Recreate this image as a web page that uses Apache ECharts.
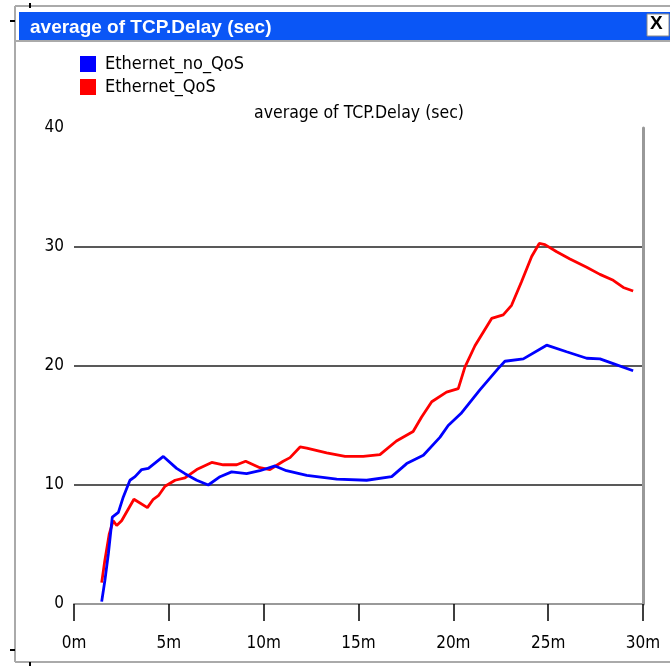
<!DOCTYPE html>
<html>
<head>
<meta charset="utf-8">
<script src="https://cdn.jsdelivr.net/npm/echarts@6/dist/echarts.min.js"></script>
<style>
  html, body { margin: 0; padding: 0; background: #fff; }
  #chart { width: 670px; height: 666px; }
</style>
</head>
<body>
<div id="chart"></div>
<script>
// time in minutes, delay in seconds
var noQosTime = [1.46, 1.63, 1.81, 2.02, 2.34, 2.60, 2.95, 3.22, 3.57, 3.92, 4.71, 5.41, 5.85, 6.47, 7.08, 7.70, 8.31, 9.10, 9.80, 10.6, 11.2, 12.27, 13.85, 15.43, 16.75, 17.54, 18.42, 19.29, 19.73, 20.4, 21.4, 22.37, 22.72, 23.69, 24.92, 25.97, 27.03, 27.73, 28.43, 29.48];
var noQosDelay = [0.2, 2.0, 4.2, 7.3, 7.7, 9.0, 10.4, 10.7, 11.3, 11.4, 12.4, 11.4, 10.95, 10.4, 10.0, 10.7, 11.1, 10.95, 11.2, 11.6, 11.2, 10.8, 10.5, 10.4, 10.7, 11.8, 12.5, 14.0, 15.0, 16.0, 18.0, 19.8, 20.4, 20.6, 21.75, 21.2, 20.65, 20.6, 20.2, 19.6];

var qosTime = [1.46, 1.62, 1.86, 2.07, 2.25, 2.51, 3.16, 3.87, 4.18, 4.45, 4.80, 5.33, 5.85, 6.47, 7.26, 7.87, 8.58, 9.05, 9.80, 10.33, 11.03, 11.39, 11.92, 12.27, 13.32, 14.29, 15.25, 16.13, 17.0, 17.88, 18.32, 18.86, 19.64, 20.26, 20.61, 21.14, 22.02, 22.63, 23.07, 23.60, 24.13, 24.53, 24.83, 25.45, 26.15, 27.03, 27.73, 28.43, 28.96, 29.48];
var qosDelay = [1.8, 3.6, 5.9, 7.0, 6.6, 7.0, 8.8, 8.1, 8.8, 9.1, 9.9, 10.4, 10.6, 11.3, 11.9, 11.7, 11.7, 12.0, 11.45, 11.3, 12.0, 12.3, 13.2, 13.1, 12.7, 12.4, 12.4, 12.55, 13.7, 14.5, 15.7, 17.0, 17.8, 18.1, 19.9, 21.7, 24.0, 24.3, 25.1, 27.1, 29.2, 30.3, 30.2, 29.6, 29.0, 28.3, 27.7, 27.2, 26.6, 26.3];

var seriesNames = ["Ethernet_no_QoS", "Ethernet_QoS"];
var windowTitle = "average of TCP.Delay (sec)";

var font = "'Liberation Sans', Arial, sans-serif";
var narrow = "'DejaVu Sans Condensed', sans-serif";

function pairs(xs, ys)
{
    var out = [];
    for (var i = 0; i < xs.length; i++) {
        out.push([xs[i], ys[i]]);
    }
    return out;
}

var chart = echarts.init(document.getElementById("chart"));

chart.setOption({
    animation: false,
    backgroundColor: "#fff",
    graphic: [
        // window frame
        { type: "line", shape: { x1: 15, y1: 6, x2: 670, y2: 6 }, style: { stroke: "#aaa", lineWidth: 2 } },
        { type: "line", shape: { x1: 15, y1: 6, x2: 15, y2: 662 }, style: { stroke: "#aaa", lineWidth: 2 } },
        { type: "line", shape: { x1: 15, y1: 662, x2: 670, y2: 662 }, style: { stroke: "#aaa", lineWidth: 2 } },
        { type: "rect", shape: { x: 19, y: 12, width: 651, height: 28 }, style: { fill: "#0a56f6" } },
        { type: "line", shape: { x1: 15, y1: 41, x2: 670, y2: 41 }, style: { stroke: "#aaa", lineWidth: 2 } },
        { type: "rect", shape: { x: 647, y: 14, width: 22, height: 22 }, style: { fill: "#fff", stroke: "#888", lineWidth: 1 } },
        { type: "text", left: 650, top: 14, style: { text: "X", fill: "#000", font: "bold 19px " + font } },
        // small frame tick marks
        { type: "line", shape: { x1: 30, y1: 3, x2: 30, y2: 8 }, style: { stroke: "#000", lineWidth: 2 } },
        { type: "line", shape: { x1: 10, y1: 21, x2: 15, y2: 21 }, style: { stroke: "#000", lineWidth: 2 } },
        { type: "line", shape: { x1: 10, y1: 650, x2: 15, y2: 650 }, style: { stroke: "#000", lineWidth: 2 } },
        { type: "line", shape: { x1: 30, y1: 662, x2: 30, y2: 666 }, style: { stroke: "#000", lineWidth: 2 } }
    ],
    title: [
        {
            text: windowTitle,
            left: 25,
            top: 13,
            textStyle: { color: "#fff", fontFamily: font, fontSize: 19, fontWeight: "bold" }
        },
        {
            text: windowTitle,
            left: 354,
            top: 99,
            textAlign: "center",
            textStyle: { color: "#000", fontFamily: narrow, fontSize: 17.5, fontWeight: "normal" }
        }
    ],
    legend: {
        orient: "vertical",
        left: 80,
        top: 55,
        padding: 0,
        itemWidth: 16,
        itemHeight: 16,
        itemGap: 5,
        icon: "rect",
        data: seriesNames,
        textStyle: { color: "#000", fontFamily: narrow, fontSize: 18, padding: [0, 0, 0, 4] }
    },
    grid: { left: 74, right: 27, top: 128, bottom: 62 },
    xAxis: {
        type: "value",
        min: 0,
        max: 30,
        interval: 5,
        axisLine: { show: true, onZero: false, lineStyle: { color: "#999", width: 2 } },
        axisTick: { show: true, length: 17, lineStyle: { color: "#000", width: 1.5 } },
        axisLabel: { color: "#000", fontFamily: narrow, fontSize: 17, margin: 31, formatter: function(v) { return v + "m"; } },
        splitLine: { show: false }
    },
    yAxis: [
        {
            type: "value",
            min: 0,
            max: 40,
            interval: 10,
            axisLine: { show: false },
            axisTick: { show: false },
            axisLabel: { color: "#000", fontFamily: narrow, fontSize: 17, margin: 10 },
            splitLine: { show: true, showMinLine: false, showMaxLine: false, lineStyle: { color: "#222", width: 1.5 } }
        },
        {
            type: "value",
            position: "right",
            min: 0,
            max: 40,
            interval: 10,
            axisLine: { show: true, lineStyle: { color: "#999", width: 3 } },
            axisTick: { show: false },
            axisLabel: { show: false },
            splitLine: { show: false }
        }
    ],
    series: [
        {
            name: seriesNames[0],
            type: "line",
            showSymbol: false,
            color: "#0000ff",
            lineStyle: { color: "#0000ff", width: 2.8 },
            data: pairs(noQosTime, noQosDelay)
        },
        {
            name: seriesNames[1],
            type: "line",
            showSymbol: false,
            color: "#ff0000",
            lineStyle: { color: "#ff0000", width: 2.8 },
            z: 1,
            data: pairs(qosTime, qosDelay)
        }
    ]
});
</script>
</body>
</html>
